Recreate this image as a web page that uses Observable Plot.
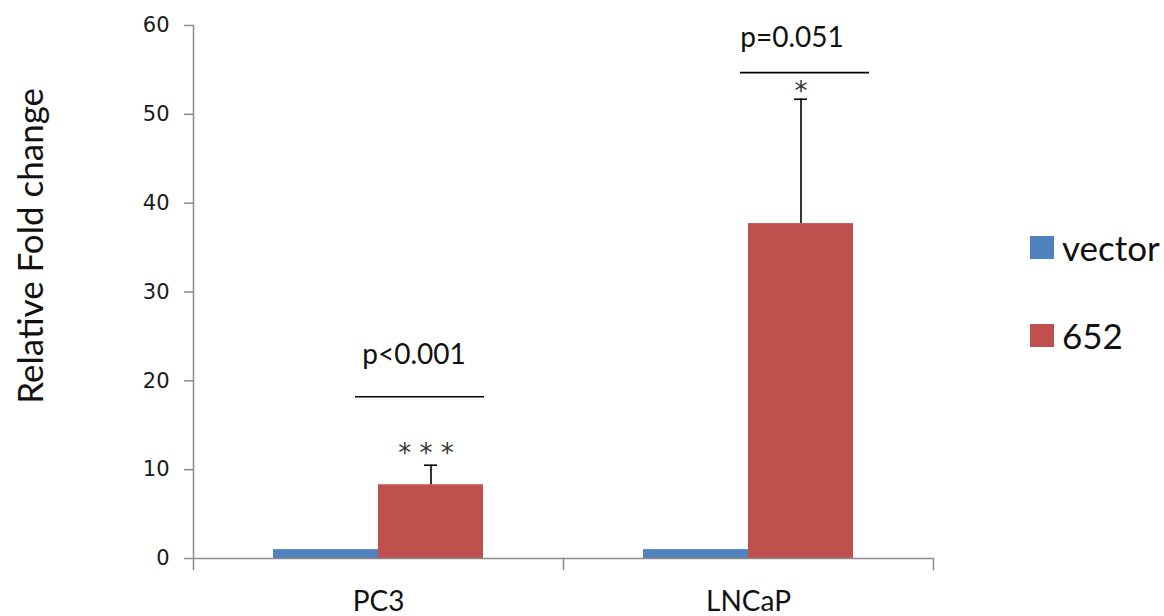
<!DOCTYPE html>
<html>
<head>
<meta charset="utf-8">
<script src="https://cdn.jsdelivr.net/npm/d3@7"></script>
<script src="https://cdn.jsdelivr.net/npm/@observablehq/plot@0.6"></script>
<style>
  html, body { margin: 0; padding: 0; background: #fff; }
  #wrap { position: relative; width: 1164px; height: 616px; overflow: hidden; }
  #legend { position: absolute; left: 1030px; top: 0; font-family: Lato, sans-serif; color: #111; }
  .item { position: absolute; left: 0; display: flex; align-items: center; white-space: nowrap; }
  .sw { width: 24px; height: 23px; margin-right: 8px; }
  .lab { font-size: 35px; line-height: 1; }
</style>
</head>
<body>
<div id="wrap"><div id="chart"></div><div id="legend"></div></div>
<script>
// ---- data ----
const categories = ["PC3", "LNCaP"];
const series = ["vector", "652"];
const colors = ["#4F81BD", "#C0504D"];
const vectorValues = [1.0, 1.0];
const values652 = [8.3, 37.7];
const errors652 = [2.2, 14.0];
const yTicks = [0, 10, 20, 30, 40, 50, 60];
const pLabels = ["p<0.001", "p=0.051"];
const starLabels = ["* * *", "*"];
const bracketY = [18.2, 54.7];
const pLabelY = [21.9, 57.6];
const starY = [10.9, 51.6];
const yLabel = "Relative Fold change";

// ---- tables ----
const bars = [];
categories.forEach((c, i) => {
  bars.push({category: c, series: series[0], value: vectorValues[i]});
  bars.push({category: c, series: series[1], value: values652[i], err: errors652[i]});
});
const errs = bars.filter(d => d.err != null);
const annos = categories.map((c, i) => ({
  category: c, series: series[1], p: pLabels[i], stars: starLabels[i],
  bracket: bracketY[i], pY: pLabelY[i], sY: starY[i]
}));

const chart = Plot.plot({
  width: 1164,
  height: 616,
  marginLeft: 192,
  marginRight: 231,
  marginTop: 25,
  marginBottom: 58,
  style: {fontFamily: "Lato, sans-serif", color: "#111", background: "transparent"},
  fx: {domain: categories, padding: 0, label: null},
  x: {domain: series, paddingInner: 0, paddingOuter: 0.76, axis: null},
  y: {domain: [0, 60]},
  color: {domain: series, range: colors},
  marks: [
    Plot.barY(bars, {fx: "category", x: "series", y: "value", fill: "series"}),
    Plot.ruleY([0], {stroke: "#8c8c8c", strokeWidth: 1.5}),
    Plot.frame({anchor: "left", stroke: "#8c8c8c", strokeWidth: 1.5, insetBottom: -11, facetAnchor: "left"}),
    Plot.frame({anchor: "right", stroke: "#8c8c8c", strokeWidth: 1.5, insetTop: 533, insetBottom: -11}),
    Plot.axisY({ticks: yTicks, tickSize: 9, tickPadding: 15, fontSize: 21, fontFamily: "DejaVu Sans",
      stroke: "#8c8c8c", strokeWidth: 1.5, fill: "#1a1a1a", label: null}),
    Plot.axisFx({anchor: "bottom", tickSize: 0, tickPadding: 33, fontSize: 28, fontFamily: "Lato", fill: "#111", label: null}),
    // error bars
    Plot.ruleX(errs, {fx: "category", x: "series", y1: "value", y2: d => d.value + d.err, stroke: "#000", strokeWidth: 1.6}),
    Plot.tickY(errs, {fx: "category", x: "series", y: d => d.value + d.err, stroke: "#000", strokeWidth: 1.6, insetLeft: 46, insetRight: 46}),
    // PC3 annotation
    Plot.tickY([annos[0]], {fx: "category", x: "series", y: "bracket", stroke: "#000", strokeWidth: 1.6, insetLeft: -23, insetRight: -1}),
    Plot.text([annos[0]], {fx: "category", x: "series", y: "pY", text: "p", dx: -17, lineAnchor: "bottom", fontSize: 28, fill: "#111"}),
    Plot.text([annos[0]], {fx: "category", x: "series", y: "sY", text: "stars", dx: -5, lineAnchor: "bottom", fontSize: 26, fontFamily: "DejaVu Sans", fill: "#333"}),
    // LNCaP annotation
    Plot.tickY([annos[1]], {fx: "category", x: "series", y: "bracket", stroke: "#000", strokeWidth: 1.6, insetLeft: -8, insetRight: -16}),
    Plot.text([annos[1]], {fx: "category", x: "series", y: "pY", text: "p", dx: -9, lineAnchor: "bottom", fontSize: 28, fill: "#111"}),
    Plot.text([annos[1]], {fx: "category", x: "series", y: "sY", text: "stars", dx: 0, lineAnchor: "bottom", fontSize: 26, fontFamily: "DejaVu Sans", fill: "#333"}),
    // y label
    Plot.text([{category: categories[0], y: 35.2, t: yLabel}], {fx: "category", y: "y", text: "t", frameAnchor: "left",
      dx: -162, rotate: -90, textAnchor: "middle", lineAnchor: "middle", fontSize: 35, fill: "#111"})
  ]
});
document.getElementById("chart").appendChild(chart);

// legend
const legend = document.getElementById("legend");
const legendTops = [230, 318];
series.forEach((s, i) => {
  const it = document.createElement("div");
  it.className = "item";
  it.style.top = legendTops[i] + "px";
  it.innerHTML = `<div class="sw" style="background:${colors[i]}"></div><span class="lab">${s}</span>`;
  legend.appendChild(it);
});
</script>
</body>
</html>
